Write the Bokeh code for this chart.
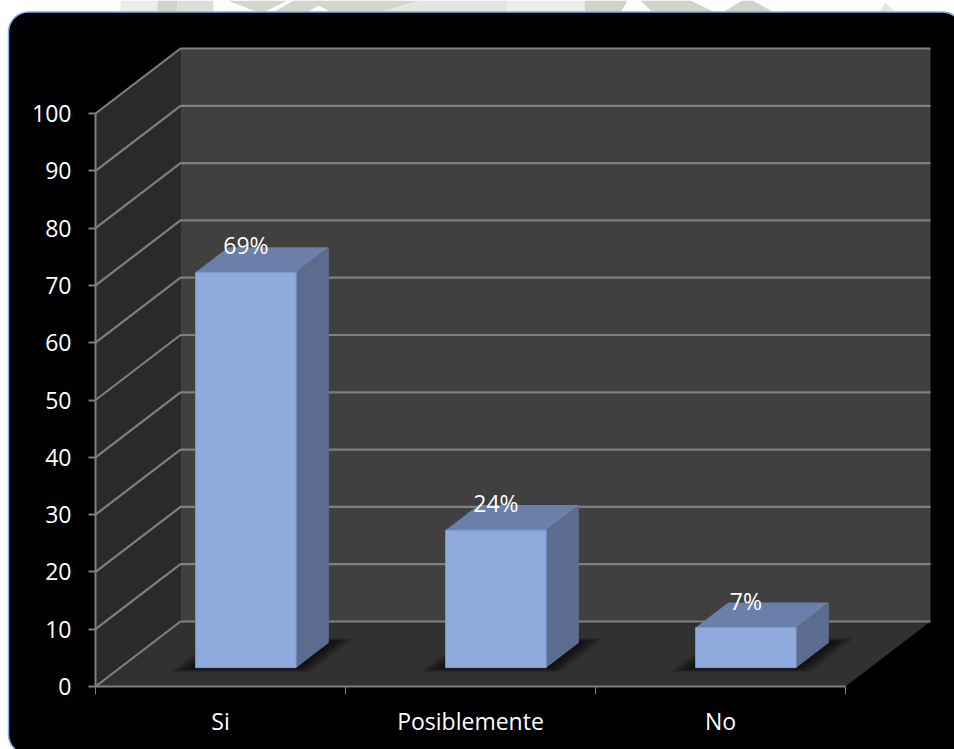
from bokeh.core.properties import value
from bokeh.embed import file_html
from bokeh.models import BoxAnnotation, FixedTicker, PolyAnnotation, Range1d
from bokeh.plotting import figure
from bokeh.resources import INLINE

# Survey results
categories = ["Si", "Posiblemente", "No"]
percentages = [69, 24, 7]
percent_labels = ["69%", "24%", "7%"]
y_ticks = list(range(0, 101, 10))

# Canvas size and the pixel position of the data origin
WIDTH, HEIGHT = 954, 749
ORIGIN_X, ORIGIN_Y = 95, 686
PX_PER_CATEGORY = 250.0
PX_PER_UNIT = 5.73

# Oblique projection of the box: how far the back plane is shifted from the front
DEPTH_X = 85 / PX_PER_CATEGORY
DEPTH_Y = 65 / PX_PER_UNIT
BAR_FRONT, BAR_BACK = 0.29, 0.675
BAR_HALF_WIDTH = 0.201
BAR_CENTRE = 0.503

FONT = "Open Sans"
FONT_SIZE = "23px"
GRID_COLOUR = "#7f7f7f"


def project(x, y, depth):
    return x + depth * DEPTH_X, y + depth * DEPTH_Y


def px_x(px):
    return (px - ORIGIN_X) / PX_PER_CATEGORY


def px_y(py):
    return (ORIGIN_Y - py) / PX_PER_UNIT


n_cat = len(categories)
p = figure(
    width=WIDTH, height=HEIGHT, output_backend="svg", toolbar_location=None,
    x_range=Range1d(px_x(0), px_x(WIDTH)),
    y_range=Range1d(px_y(HEIGHT), px_y(0)),
    min_border=0,
    border_fill_color="#ffffff", background_fill_color="#ffffff", outline_line_color=None,
)
p.grid.visible = False

# Pale watermark of the slide behind the card, showing above its top edge
watermark = [
    ("#ecede8", [(120, 0), (157, 0), (157, 12), (120, 12)]),
    ("#cfd3ca", [(157, 0), (177, 0), (177, 12), (157, 12)]),
    ("#dcdfd8", [(177, 0), (213, 0), (213, 12), (177, 12)]),
    ("#d3d6cd", [(227, 0), (287, 0), (263, 12), (258, 12)]),
    ("#d3d6cd", [(293, 0), (420, 0), (378, 12), (331, 12), (318, 5), (306, 12), (272, 12)]),
    ("#e3e5df", [(378, 12), (420, 0), (507, 0), (507, 12)]),
    ("#cfd3ca", [(584, 0), (627, 0), (620, 12), (584, 12)]),
    ("#eceee9", [(507, 0), (584, 0), (584, 12), (507, 12)]),
    ("#cfd3ca", [(640, 0), (690, 0), (715, 12), (652, 12)]),
    ("#cfd3ca", [(742, 0), (752, 0), (774, 12), (722, 12)]),
    ("#e4e6e1", [(878, 12), (885, 2), (895, 12)]),
]
for colour, pts in watermark:
    p.add_layout(PolyAnnotation(
        xs=[px_x(a) for a, _ in pts], ys=[px_y(b) for _, b in pts],
        fill_color=colour, fill_alpha=1, line_color=None, level="underlay",
    ))

# Rounded black card; its right and bottom edges run past the canvas
p.add_layout(BoxAnnotation(
    left=px_x(8), right=px_x(962), top=px_y(11.5), bottom=px_y(754),
    fill_color="#000000", fill_alpha=1,
    line_color="#85ade6", line_alpha=1, line_width=1.5,
    border_radius=20, level="underlay",
))

# Box walls and floor
y_top = y_ticks[-1]
left_wall_x = [project(0, 0, 0)[0], project(0, 0, 1)[0], project(0, y_top, 1)[0], project(0, y_top, 0)[0]]
left_wall_y = [project(0, 0, 0)[1], project(0, 0, 1)[1], project(0, y_top, 1)[1], project(0, y_top, 0)[1]]
p.patch(left_wall_x, left_wall_y, color="#2a2a2a", line_color=None)

back_x = [project(0, 0, 1)[0], project(n_cat, 0, 1)[0], project(n_cat, y_top, 1)[0], project(0, y_top, 1)[0]]
back_y = [project(0, 0, 1)[1], project(n_cat, 0, 1)[1], project(n_cat, y_top, 1)[1], project(0, y_top, 1)[1]]
p.patch(back_x, back_y, color="#404040", line_color=None)

floor_x = [project(0, 0, 0)[0], project(n_cat, 0, 0)[0], project(n_cat, 0, 1)[0], project(0, 0, 1)[0]]
floor_y = [project(0, 0, 0)[1], project(n_cat, 0, 0)[1], project(n_cat, 0, 1)[1], project(0, 0, 1)[1]]
p.patch(floor_x, floor_y, color="#313131", line_color=None)

# Gridlines wrap from the left wall onto the back wall
for tick in y_ticks:
    x0, y0 = project(0, tick, 0)
    x1, y1 = project(0, tick, 1)
    x2, y2 = project(n_cat, tick, 1)
    p.line([x0, x1, x2], [y0, y1, y2], line_color=GRID_COLOUR, line_width=2.2)

# Soft contact shadows on the floor, built from stacked translucent shapes
for i, value_ in enumerate(percentages):
    centre = i + BAR_CENTRE
    for spread in (20, 18, 16, 14, 12, 10, 8, 6, 4, 2):
        grow = spread / PX_PER_CATEGORY
        lift = spread * 0.22 / 65
        xl, xr = centre - BAR_HALF_WIDTH - grow, centre + BAR_HALF_WIDTH + grow
        corners = [
            project(xl, 0, BAR_FRONT - lift),
            project(xr, 0, BAR_FRONT - lift),
            project(xr, 0, BAR_BACK + lift),
            project(xl, 0, BAR_BACK + lift),
        ]
        p.patch([c[0] for c in corners], [c[1] for c in corners],
                color="#000000", alpha=0.085, line_color=None)

# Bars: side face, top face, then the front face
for i, value_ in enumerate(percentages):
    centre = i + BAR_CENTRE
    xl, xr = centre - BAR_HALF_WIDTH, centre + BAR_HALF_WIDTH

    side = [project(xr, 0, BAR_FRONT), project(xr, 0, BAR_BACK),
            project(xr, value_, BAR_BACK), project(xr, value_, BAR_FRONT)]
    p.patch([c[0] for c in side], [c[1] for c in side], color="#5c6c8e", line_color=None)

    top = [project(xl, value_, BAR_FRONT), project(xr, value_, BAR_FRONT),
           project(xr, value_, BAR_BACK), project(xl, value_, BAR_BACK)]
    p.patch([c[0] for c in top], [c[1] for c in top], color="#6a7fa9", line_color=None)

    fl, fb = project(xl, 0, BAR_FRONT)
    fr, ft = project(xr, value_, BAR_FRONT)
    p.quad(left=[fl], right=[fr], bottom=[fb], top=[ft],
           fill_color="#8faadc", line_color="#7e9bcd", line_width=1)

# Percentage labels sit on the rear edge of each bar's top face
label_x = [project(i + BAR_CENTRE, v, BAR_FRONT)[0] for i, v in enumerate(percentages)]
label_y = [project(i + BAR_CENTRE, v, BAR_BACK)[1] for i, v in enumerate(percentages)]
p.text(label_x, label_y, text=percent_labels, text_color="#ffffff",
       text_font=value(FONT), text_font_size=FONT_SIZE,
       text_align="center", text_baseline="middle", y_offset=-2)

# Value axis, pinned to the front-left edge of the box
y_axis = p.yaxis[0]
y_axis.fixed_location = 0
y_axis.ticker = FixedTicker(ticks=y_ticks)
y_axis.bounds = (y_ticks[0], y_ticks[-1])
y_axis.axis_line_color = GRID_COLOUR
y_axis.axis_line_width = 2
y_axis.major_tick_line_color = GRID_COLOUR
y_axis.major_tick_line_width = 2
y_axis.major_tick_in = 0
y_axis.major_tick_out = 7
y_axis.minor_tick_line_color = None
y_axis.major_label_standoff = 17
y_axis.major_label_text_color = "#ffffff"
y_axis.major_label_text_font = FONT
y_axis.major_label_text_font_size = FONT_SIZE

# Category axis: ticks between categories, labels centred on each one
x_axis = p.xaxis[0]
x_axis.fixed_location = 0
x_axis.ticker = FixedTicker(ticks=[i + 0.5 for i in range(n_cat)],
                            minor_ticks=list(range(n_cat + 1)))
x_axis.major_label_overrides = {i + 0.5: c for i, c in enumerate(categories)}
x_axis.bounds = (0, n_cat)
x_axis.axis_line_color = GRID_COLOUR
x_axis.axis_line_width = 2
x_axis.major_tick_line_color = None
x_axis.major_tick_in = 0
x_axis.major_tick_out = 8
x_axis.minor_tick_line_color = GRID_COLOUR
x_axis.minor_tick_line_width = 1
x_axis.minor_tick_in = 0
x_axis.minor_tick_out = 8
x_axis.major_label_standoff = 10
x_axis.major_label_text_color = "#ffffff"
x_axis.major_label_text_font = FONT
x_axis.major_label_text_font_size = FONT_SIZE

open("out.html", "w").write(file_html(p, INLINE))
